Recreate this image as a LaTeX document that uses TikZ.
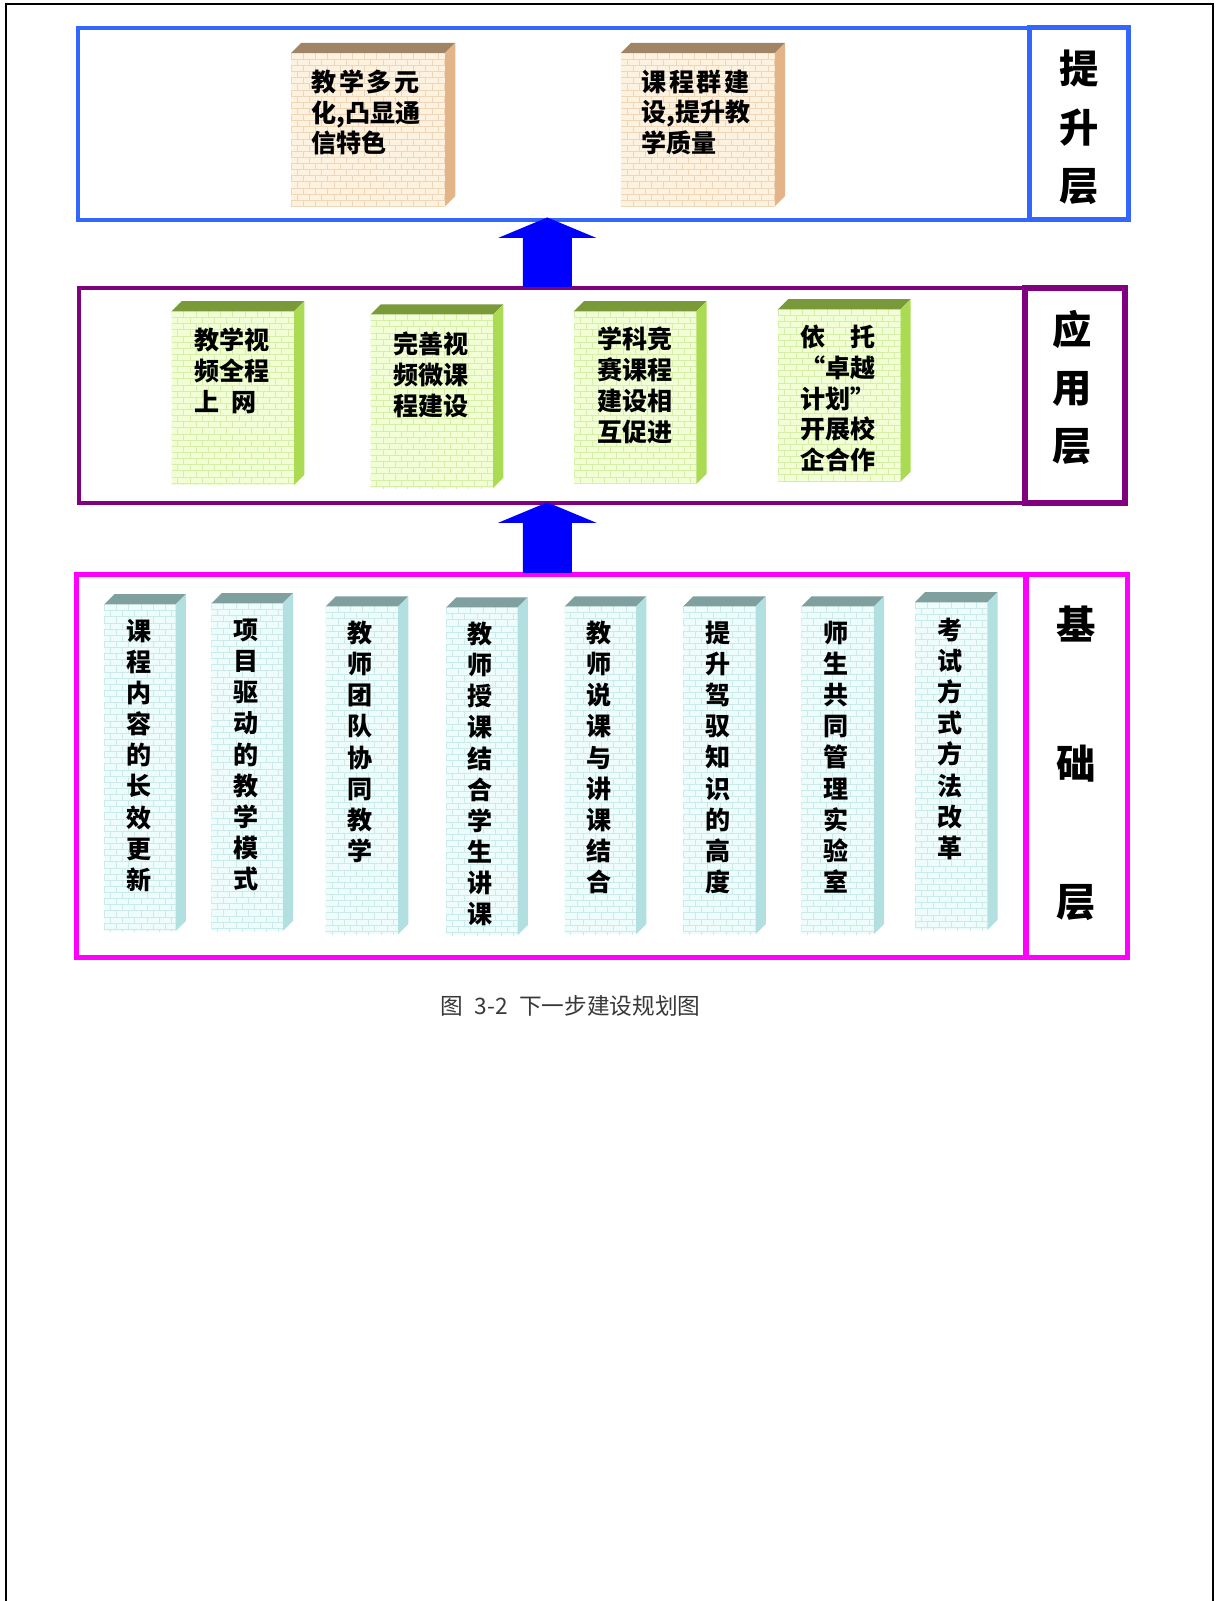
\documentclass[tikz,border=0pt]{standalone}
\usepackage{fontspec}
\newfontfamily\cjk{Noto Sans CJK SC}
\usetikzlibrary{calc}
\definecolor{topblue}{HTML}{3366FF}
\definecolor{midpurple}{HTML}{800080}
\definecolor{botmag}{HTML}{FF00FF}
\definecolor{arrowblue}{HTML}{0000FF}
\definecolor{tanfront}{HTML}{FDF2E0}
\definecolor{tanbrick}{HTML}{EED6B6}
\definecolor{tantopc}{HTML}{A08466}
\definecolor{tansidec}{HTML}{E2B487}
\definecolor{grnfront}{HTML}{F2FFD6}
\definecolor{grnbrick}{HTML}{D6EFA6}
\definecolor{grntopc}{HTML}{7A9A3A}
\definecolor{grnsidec}{HTML}{AADB52}
\definecolor{cyafront}{HTML}{EFFCFC}
\definecolor{cyabrick}{HTML}{CBEAEA}
\definecolor{cyatopc}{HTML}{80A09F}
\definecolor{cyasidec}{HTML}{B2DFE0}
\definecolor{captgray}{HTML}{383838}
\newcommand\unitpx{0.76575pt}
\tikzset{
  brickwall/.style={
    path picture={
      \foreach \r in {1,...,56} {\draw[#1, line width=0.45pt] ($(path picture bounding box.north west)+(0,\r*6)$) -- ++(200,0);}
      \foreach \k in {0,...,33} {\pgfmathsetmacro\ph{mod(\k,2)*4.6}
        \draw[#1, line width=0.45pt, dash pattern=on 4.6pt off 4.6pt, dash phase=\ph pt] ($(path picture bounding box.north west)+(\k*6,0)$) -- ++(0,340);}
    }
  },
  tanface/.style={fill=tanfront, brickwall=tanbrick, inner sep=0pt, outer sep=0pt},
  grnface/.style={fill=grnfront, brickwall=grnbrick, inner sep=0pt, outer sep=0pt},
  cyaface/.style={fill=cyafront, brickwall=cyabrick, inner sep=0pt, outer sep=0pt},
  tantop/.style={fill=tantopc}, tanside/.style={fill=tansidec},
  grntop/.style={fill=grntopc}, grnside/.style={fill=grnsidec},
  cyatop/.style={fill=cyatopc}, cyaside/.style={fill=cyasidec},
  cubetext/.style={inner sep=0pt, align=left, font=\cjk\bfseries\fontsize{18.8}{23.1}\selectfont},
  coltext/.style={inner sep=0pt, align=center, font=\cjk\bfseries\fontsize{18.8}{23.35}\selectfont},
  layerbox/.style={inner sep=0pt, outer sep=0pt, anchor=north west},
  labelbox/.style={inner sep=0pt, outer sep=0pt, anchor=north west},
  labeltext/.style={inner sep=0pt, align=center, anchor=north, font=\cjk\bfseries\fontsize{29.5}{43.7}\selectfont},
  blockarrow/.style={fill=arrowblue},
}
\newcommand\mkcube[6]{%
  \node[#6face, anchor=north west, minimum width={(#4-#2)*\unitpx}, minimum height={(#5-#3)*\unitpx}] (#1) at (#2,#3) {};%
  \fill[#6top] (#1.north west) -- ++(10,-10) -- ($(#1.north east)+(10,-10)$) -- (#1.north east) -- cycle;%
  \fill[#6side] (#1.north east) -- ++(10,-10) -- ($(#1.south east)+(10,-10)$) -- (#1.south east) -- cycle;%
}
\begin{document}
\begin{tikzpicture}[x=0.75pt,y=-0.75pt]
\useasboundingbox (0,0) rectangle (1216,1601);
% page frame
\draw[line width=1.6pt] (6,1601) -- (6,4) -- (1213,4) -- (1213,1601);

\begin{scope}[x=\unitpx, y=-\unitpx]
% layer boxes
\node[layerbox, draw=topblue, line width=3pt, minimum width={932*\unitpx}, minimum height={188*\unitpx}] (topbox) at (76,27) {};
\node[labelbox, draw=topblue, line width=4pt, minimum width={97*\unitpx}, minimum height={188*\unitpx}] (toplab) at (1008,27) {};
\node[layerbox, draw=midpurple, line width=3pt, minimum width={927*\unitpx}, minimum height={211*\unitpx}] (midbox) at (77,282) {};
\node[labelbox, draw=midpurple, line width=4.5pt, minimum width={98*\unitpx}, minimum height={211*\unitpx}] (midlab) at (1004,282) {};
\node[layerbox, draw=botmag, line width=3.5pt, minimum width={930*\unitpx}, minimum height={375*\unitpx}] (botbox) at (75,563) {};
\node[labelbox, draw=botmag, line width=4pt, minimum width={99*\unitpx}, minimum height={375*\unitpx}] (botlab) at (1005,563) {};

% layer labels
\node[labeltext] (lab1) at (1057,49) {提\\升\\层};
\node[labeltext, font=\cjk\bfseries\fontsize{29.5}{43.3}\selectfont] (lab2) at (1050,304) {应\\用\\层};
\node[labeltext, font=\cjk\bfseries\fontsize{29.5}{104.1}\selectfont] (lab3) at (1054,593) {基\\础\\层};

% arrows
\coordinate (a1tip) at (536,213);
\coordinate (a1base) at (536,281);
\fill[blockarrow] ($(a1base)+(-24,0)$) -- ($(a1base)+(-24,-48)$) -- ($(a1base)+(-48,-48)$) -- (a1tip)
  -- ($(a1base)+(48,-48)$) -- ($(a1base)+(24,-48)$) -- ($(a1base)+(24,0)$) -- cycle;
\coordinate (a2tip) at (536,492);
\coordinate (a2base) at (536,561);
\fill[blockarrow] ($(a2base)+(-24,0)$) -- ($(a2base)+(-24,-49)$) -- ($(a2base)+(-48,-49)$) -- (a2tip)
  -- ($(a2base)+(48,-49)$) -- ($(a2base)+(24,-49)$) -- ($(a2base)+(24,0)$) -- cycle;

% top cubes
\mkcube{tc1}{285}{52}{436}{202}{tan}
\mkcube{tc2}{608}{52}{759}{202}{tan}
\node[cubetext, anchor=north west] (tt1) at (305,68) {\makebox[4.3em][s]{教\hfil 学\hfil 多\hfil 元}\\化,凸显通\\信特色};
\node[cubetext, anchor=north west] (tt2) at (628,68) {\makebox[4.3em][s]{课\hfil 程\hfil 群\hfil 建}\\设,提升教\\学质量};

% middle cubes
\mkcube{mc1}{168}{305}{288}{475}{grn}
\mkcube{mc2}{363}{308}{483}{478}{grn}
\mkcube{mc3}{562}{305}{682}{474}{grn}
\mkcube{mc4}{762}{303}{882}{472}{grn}
\node[cubetext, anchor=north west] (mt1) at (190,321) {教学视\\频全程\\上\hspace{0.5em}网};
\node[cubetext, anchor=north west] (mt2) at (385,325) {完善视\\频微课\\程建设};
\node[cubetext, anchor=north west] (mt3) at (585,320) {学科竞\\赛课程\\建设相\\互促进};
\node[cubetext, anchor=north west] (mt4) at (784,318) {\makebox[3em][s]{依\hfil 托}\\\makebox[1em][r]{“}卓越\\计划\makebox[1em][l]{”}\\开展校\\企合作};

% bottom cubes
\mkcube{bc1}{102}{592}{172}{912}{cya}
\mkcube{bc2}{207}{591}{277}{912}{cya}
\mkcube{bc3}{319}{594}{390}{915}{cya}
\mkcube{bc4}{437}{595}{507}{916}{cya}
\mkcube{bc5}{553}{594}{623}{915}{cya}
\mkcube{bc6}{669}{594}{740}{915}{cya}
\mkcube{bc7}{785}{594}{856}{915}{cya}
\mkcube{bc8}{896}{590}{967}{911}{cya}
\node[coltext, anchor=north] (bt1) at (136,606) {课\\程\\内\\容\\的\\长\\效\\更\\新};
\node[coltext, anchor=north] (bt2) at (241,606) {项\\目\\驱\\动\\的\\教\\学\\模\\式};
\node[coltext, anchor=north] (bt3) at (353,608) {教\\师\\团\\队\\协\\同\\教\\学};
\node[coltext, anchor=north] (bt4) at (470,609) {教\\师\\授\\课\\结\\合\\学\\生\\讲\\课};
\node[coltext, anchor=north] (bt5) at (587,608) {教\\师\\说\\课\\与\\讲\\课\\结\\合};
\node[coltext, anchor=north] (bt6) at (703,608) {提\\升\\驾\\驭\\知\\识\\的\\高\\度};
\node[coltext, anchor=north] (bt7) at (819,608) {师\\生\\共\\同\\管\\理\\实\\验\\室};
\node[coltext, anchor=north] (bt8) at (930,605) {考\\试\\方\\式\\方\\法\\改\\革};

% caption
\node[inner sep=0pt, text=captgray, font=\cjk\fontsize{17}{20}\selectfont] (caption) at (559,985) {图\hspace{0.5em}3-2\hspace{0.5em}下一步建设规划图};
\end{scope}
\end{tikzpicture}
\end{document}
